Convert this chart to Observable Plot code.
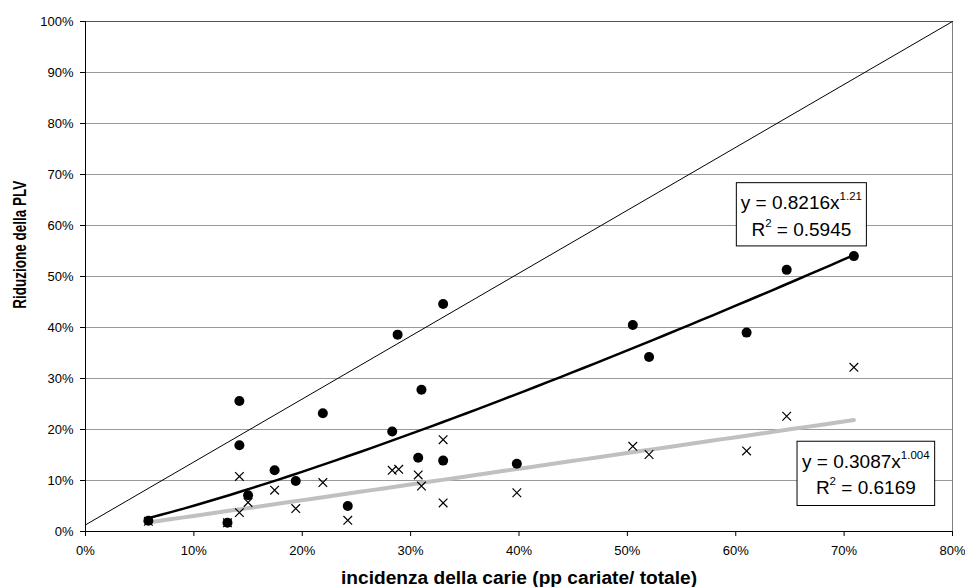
<!DOCTYPE html>
<html><head><meta charset="utf-8">
<script src="https://cdn.jsdelivr.net/npm/d3@7"></script>
<script src="https://cdn.jsdelivr.net/npm/@observablehq/plot@0.6"></script>
<style>body{margin:0;background:#fff}</style>
</head><body><div id="chart"></div>
<script>
// ---- data (fractions) ----
const xTicks = [0,0.1,0.2,0.3,0.4,0.5,0.6,0.7,0.8];
const yTicks = [0,0.1,0.2,0.3,0.4,0.5,0.6,0.7,0.8,0.9,1.0];
const circleX = [0.058,0.131,0.142,0.142,0.150,0.1745,0.194,0.219,0.242,0.283,0.288,0.307,0.310,0.330,0.330,0.398,0.505,0.520,0.610,0.647,0.709];
const circleY = [0.021,0.017,0.256,0.169,0.071,0.120,0.099,0.232,0.050,0.196,0.386,0.1445,0.278,0.446,0.139,0.133,0.405,0.342,0.390,0.513,0.540];
const crossX  = [0.058,0.131,0.142,0.142,0.150,0.1745,0.194,0.219,0.242,0.283,0.289,0.307,0.310,0.330,0.330,0.398,0.505,0.520,0.610,0.647,0.709];
const crossY  = [0.020,0.017,0.108,0.037,0.057,0.081,0.045,0.096,0.022,0.120,0.122,0.111,0.089,0.180,0.056,0.076,0.167,0.151,0.158,0.226,0.322];
const diagX = [0, 0.8];
const diagY = [0.013, 1.0];
// power trend lines  y = a * x^b  (coefficients as printed on the chart)
const trendCircleCoef = {a:0.8216, b:1.21, r2:"0.5945"};
const trendCrossCoef  = {a:0.3087, b:1.004, r2:"0.6169"};
const trendRange = [0.058, 0.709];
const xTitle = "incidenza della carie (pp cariate/ totale)";
const yTitle = "Riduzione della PLV";

// ---- tables ----
const circles = circleX.map((x,i)=>({x, y:circleY[i]}));
const crosses = crossX.map((x,i)=>({x, y:crossY[i]}));
const diagonal = diagX.map((x,i)=>({x, y:diagY[i]}));
const xs = d3.range(0, 61).map(i => trendRange[0] + (trendRange[1]-trendRange[0]) * i/60);
const trendCircle = xs.map(x => ({x, y: trendCircleCoef.a * Math.pow(x, trendCircleCoef.b)}));
const trendCross  = xs.map(x => ({x, y: trendCrossCoef.a * Math.pow(x, trendCrossCoef.b)}));

const fmt = d3.format(".0%");
const font = "'Liberation Sans', Arial, Helvetica, sans-serif";

const plot = Plot.plot({
  width: 965, height: 587,
  marginLeft: 85, marginRight: 13, marginTop: 21, marginBottom: 56,
  style: {fontFamily: font, fontSize: "13px", background: "#fff", color: "#000"},
  x: {domain: [0, 0.8], label: null},
  y: {domain: [0, 1], label: null},
  marks: [
    Plot.gridY(yTicks, {stroke: "#999", strokeOpacity: 1, strokeWidth: 1}),
    Plot.frame({stroke: "#808080"}),
    Plot.ruleY([1], {stroke: "#555"}),
    Plot.ruleX([0], {stroke: "#000"}),
    Plot.ruleY([0], {stroke: "#000"}),
    Plot.axisX(xTicks, {tickFormat: fmt, tickSize: 5, tickPadding: 9, fontSize: 13, label: null}),
    Plot.axisY(yTicks, {tickFormat: fmt, tickSize: 5, tickPadding: 7, fontSize: 13, label: null}),
    Plot.line(diagonal, {x: "x", y: "y", stroke: "#000", strokeWidth: 1}),
    Plot.line(trendCross, {x: "x", y: "y", stroke: "#c0c0c0", strokeWidth: 4}),
    Plot.line(trendCircle, {x: "x", y: "y", stroke: "#000", strokeWidth: 2.5}),
    Plot.dot(circles, {x: "x", y: "y", r: 5, fill: "#000", stroke: null}),
    Plot.dot(crosses, {x: "x", y: "y", symbol: "times", r: 4, stroke: "#000", strokeWidth: 1.2}),
    Plot.text([xTitle], {frameAnchor: "bottom", dy: 46.5, textAnchor: "middle", lineAnchor: "middle", fontWeight: "bold", fontSize: 18, fill: "#000", className: "xtitle"}),
    Plot.text([yTitle], {frameAnchor: "left", dx: -65, dy: -31.7, rotate: -90, textAnchor: "middle", lineAnchor: "middle", fontWeight: "bold", fontSize: 18, fill: "#000", className: "ytitle"})
  ]
});

// condensed axis titles, as in the reference
d3.select(plot).selectAll(".xtitle text").attr("textLength", 356).attr("lengthAdjust", "spacingAndGlyphs");
d3.select(plot).selectAll(".ytitle text").attr("textLength", 128).attr("lengthAdjust", "spacingAndGlyphs");

// ---- equation boxes, placed with the plot's own scales ----
const boxes = [
  {coef: trendCircleCoef, x1: 0.601, x2: 0.721, y1: 0.683, y2: 0.559},
  {coef: trendCrossCoef,  x1: 0.657, x2: 0.784, y1: 0.176, y2: 0.050}
];
const sx = plot.scale("x"), sy = plot.scale("y");
const svg = d3.select(plot);
const g = svg.append("g").attr("font-family", font).attr("fill", "#000");
for (const b of boxes) {
  const X1 = sx.apply(b.x1), X2 = sx.apply(b.x2), Y1 = sy.apply(b.y1), Y2 = sy.apply(b.y2);
  g.append("rect").attr("x", X1).attr("y", Y1).attr("width", X2 - X1).attr("height", Y2 - Y1)
    .attr("fill", "#fff").attr("stroke", "#000").attr("stroke-width", 1);
  const cx = (X1 + X2) / 2;
  const t1 = g.append("text").attr("x", cx).attr("y", Y1 + 26.5).attr("text-anchor", "middle").attr("font-size", 19);
  t1.append("tspan").text("y = " + b.coef.a + "x");
  t1.append("tspan").attr("dy", -9).attr("font-size", 11.5).text(String(b.coef.b));
  const t2 = g.append("text").attr("x", cx).attr("y", Y1 + 53).attr("text-anchor", "middle").attr("font-size", 19);
  t2.append("tspan").text("R");
  t2.append("tspan").attr("dy", -9).attr("font-size", 11.5).text("2");
  t2.append("tspan").attr("dy", 9).text(" = " + b.coef.r2);
}

document.getElementById("chart").appendChild(plot);
</script>
</body></html>
